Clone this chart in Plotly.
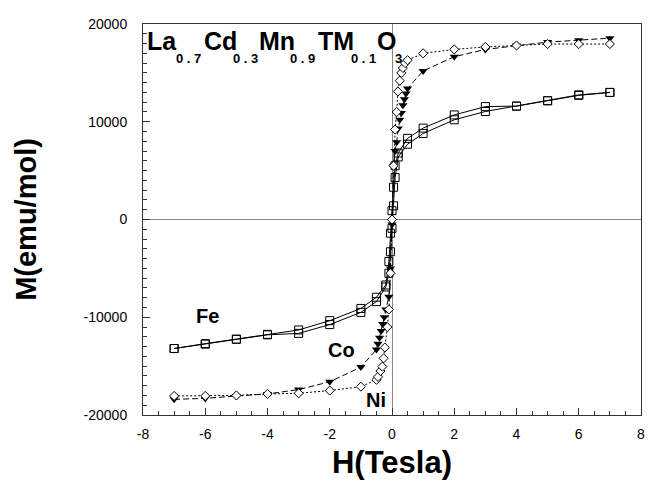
import plotly.graph_objects as go

# ---- data ----
fe_h_down = [7, 6, 5, 4, 3, 2, 1, 0.5, 0.2, 0.1, 0.05, 0, -0.05, -0.1, -0.2, -0.5, -1, -2, -3, -4, -5, -6, -7]
fe_m_down = [13000, 12700, 12150, 11600, 11550, 10700, 9350, 8300, 6800, 5500, 3300, 900, -1400, -4300,
             -6700, -7950, -9100, -10350, -11300, -11750, -12250, -12700, -13200]
fe_h_up = [-7, -6, -5, -4, -3, -2, -1, -0.5, -0.2, -0.1, -0.05, 0, 0.05, 0.1, 0.2, 0.5, 1, 2, 3, 4, 5, 6, 7]
fe_m_up = [-13200, -12750, -12250, -11800, -11650, -10750, -9500, -8400, -6900, -5500, -3300, -900, 1400,
           4300, 6400, 7700, 8800, 10200, 11050, 11600, 12150, 12750, 13000]

co_h = [-7, -6, -5, -4, -3, -2, -1, -0.5, -0.45, -0.4, -0.35, -0.3, -0.25, -0.2, -0.1, -0.05, 0,
        0.05, 0.1, 0.15, 0.2, 0.25, 0.3, 0.35, 0.4, 0.45, 0.5, 1, 2, 3, 4, 5, 6, 7]
co_m = [-18400, -18300, -18050, -17850, -17400, -16600, -15100, -13300, -12700, -12100, -11400, -10700,
        -10000, -9200, -7900, -5000, -500, 5500, 7000, 7900, 9300, 10200, 10900, 11700, 12300, 12900,
        13400, 15200, 16650, 17400, 17800, 18150, 18350, 18550]

ni_h = [-7, -6, -5, -4, -3, -2, -1, -0.5, -0.45, -0.37, -0.31, -0.27, -0.23, -0.15, -0.1, -0.05, 0,
        0.05, 0.1, 0.15, 0.19, 0.25, 0.3, 0.35, 0.42, 0.5, 1, 2, 3, 4, 5, 6, 7]
ni_m = [-18050, -18050, -18000, -17850, -17780, -17500, -17100, -16400, -16100, -15500, -15050, -14200,
        -13100, -11000, -9200, -5500, 0, 5500, 9200, 11000, 13100, 14200, 15000, 15500, 16000, 16300,
        17000, 17400, 17650, 17800, 17950, 17950, 17950]

x_ticks = [-8, -6, -4, -2, 0, 2, 4, 6, 8]
y_ticks = [-20000, -10000, 0, 10000, 20000]

# formula pieces: (text, left edge in paper x)
formula_main = [("La", 0.004), ("Cd", 0.118), ("Mn", 0.229), ("TM", 0.347), ("O", 0.466)]
formula_sub = [("0 . 7", 0.062), ("0 . 3", 0.176), ("0 . 9", 0.291), ("0 . 1", 0.414), ("3", 0.502)]

labels = [("Fe", -5.93, -9870), ("Co", -1.63, -13350), ("Ni", -0.51, -18470)]

FONT = "Liberation Sans, Arial, sans-serif"

fig = go.Figure()

fig.add_trace(go.Scatter(
    x=fe_h_down + fe_h_up, y=fe_m_down + fe_m_up, mode="lines+markers", name="Fe",
    line=dict(color="black", width=1),
    marker=dict(symbol="square-open", size=8, color="black", line=dict(width=1)),
))
fig.add_trace(go.Scatter(
    x=co_h, y=co_m, mode="lines+markers", name="Co",
    line=dict(color="black", width=1, dash="6px,3px"),
    marker=dict(symbol="triangle-down", size=8, color="black"),
))
fig.add_trace(go.Scatter(
    x=ni_h, y=ni_m, mode="lines+markers", name="Ni",
    line=dict(color="black", width=1, dash="2px,2px"),
    marker=dict(symbol="diamond", size=7, color="white", line=dict(color="black", width=1)),
))

annotations = []
for txt, px in formula_main:
    annotations.append(dict(text=txt, x=px, y=0.9565, xref="paper", yref="paper",
                            xanchor="left", yanchor="middle", showarrow=False,
                            font=dict(family=FONT, size=25, color="black", weight="bold")))
for txt, px in formula_sub:
    annotations.append(dict(text=txt, x=px, y=0.913, xref="paper", yref="paper",
                            xanchor="left", yanchor="middle", showarrow=False,
                            font=dict(family=FONT, size=13, color="black", weight="bold")))
for txt, hx, my in labels:
    annotations.append(dict(text=txt, x=hx, y=my, xref="x", yref="y",
                            xanchor="center", yanchor="middle", showarrow=False,
                            font=dict(family=FONT, size=20, color="black", weight="bold")))

fig.update_layout(
    width=649, height=483,
    margin=dict(l=143, r=4, t=24, b=68),
    paper_bgcolor="white", plot_bgcolor="white",
    showlegend=False,
    font=dict(family=FONT, size=14, color="black"),
    annotations=annotations,
    xaxis=dict(
        range=[-8, 8], tickvals=x_ticks, ticktext=[str(v) for v in x_ticks],
        ticks="inside", ticklen=7, tickcolor="#333", tickwidth=1,
        minor=dict(dtick=0.5, tick0=0, ticks="inside", ticklen=4, tickcolor="#333"),
        showline=True, linecolor="#333", linewidth=1, mirror=True,
        showgrid=False, zeroline=True, zerolinecolor="#888", zerolinewidth=1,
        tickfont=dict(size=14), ticklabelstandoff=6, ticklabeloverflow="allow",
        title=dict(text="H(Tesla)", font=dict(size=31, weight="bold"), standoff=10),
    ),
    yaxis=dict(
        range=[-20000, 20000], tickvals=y_ticks, ticktext=[str(v) for v in y_ticks],
        ticks="inside", ticklen=7, tickcolor="#333", tickwidth=1,
        minor=dict(dtick=1000, tick0=0, ticks="inside", ticklen=4, tickcolor="#333"),
        showline=True, linecolor="#333", linewidth=1, mirror=True,
        showgrid=False, zeroline=True, zerolinecolor="#888", zerolinewidth=1,
        tickfont=dict(size=14), ticklabelstandoff=12, ticklabeloverflow="allow",
        title=dict(text="M(emu/mol)", font=dict(size=29, weight="bold"), standoff=38),
    ),
)

fig.write_html("out.html", config={"displayModeBar": False},
               post_script="document.body.style.margin='0';document.body.style.overflow='hidden';")
